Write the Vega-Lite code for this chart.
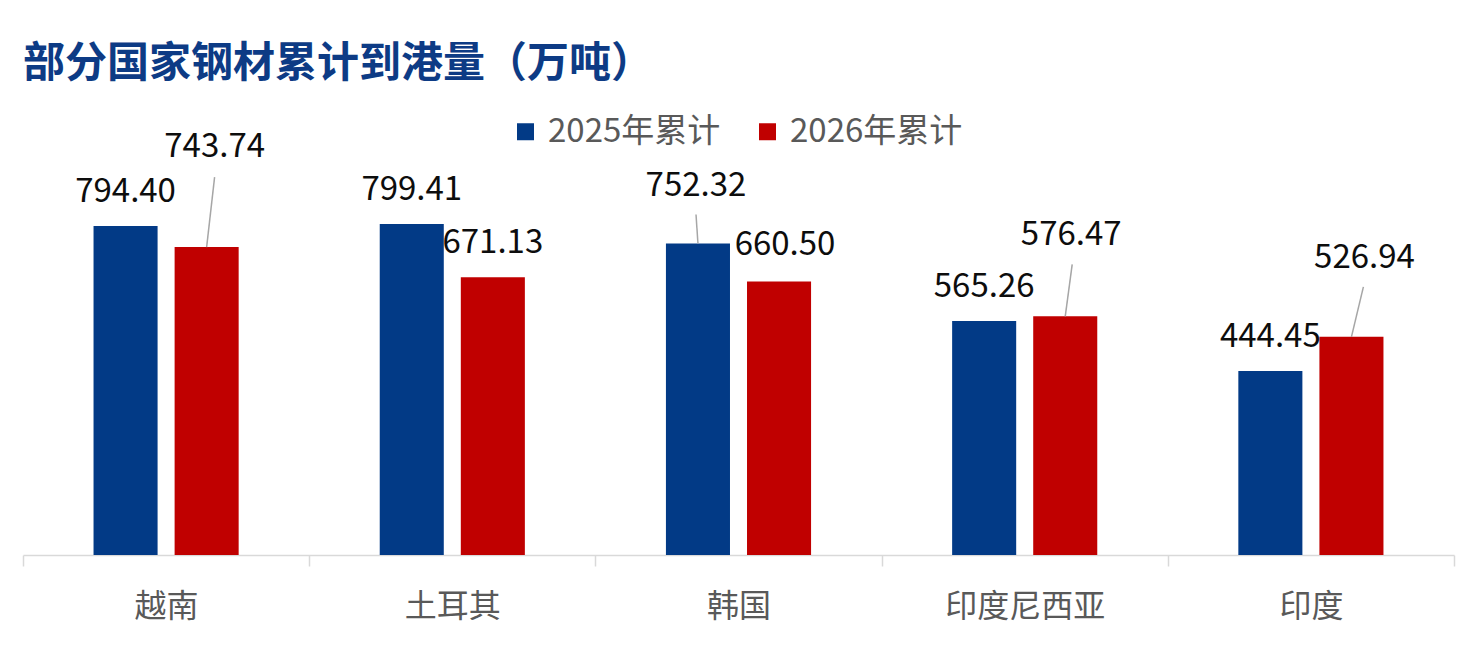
{
  "$schema": "https://vega.github.io/schema/vega-lite/v6.json",
  "width": 1431,
  "height": 414,
  "autosize": {"type": "none"},
  "padding": {"left": 23, "top": 141, "right": 23, "bottom": 95},
  "background": "white",
  "title": {
    "text": "部分国家钢材累计到港量（万吨）",
    "anchor": "start",
    "frame": "group",
    "font": "Noto Sans CJK SC",
    "fontSize": 42,
    "fontWeight": "bold",
    "color": "#0D3B85",
    "offset": 29
  },
  "data": {
    "values": [
      {"country": "越南", "year": "2025年累计", "value": 794.40},
      {"country": "越南", "year": "2026年累计", "value": 743.74},
      {"country": "土耳其", "year": "2025年累计", "value": 799.41},
      {"country": "土耳其", "year": "2026年累计", "value": 671.13},
      {"country": "韩国", "year": "2025年累计", "value": 752.32},
      {"country": "韩国", "year": "2026年累计", "value": 660.50},
      {"country": "印度尼西亚", "year": "2025年累计", "value": 565.26},
      {"country": "印度尼西亚", "year": "2026年累计", "value": 576.47},
      {"country": "印度", "year": "2025年累计", "value": 444.45},
      {"country": "印度", "year": "2026年累计", "value": 526.94}
    ]
  },
  "encoding": {
    "x": {
      "field": "country",
      "type": "nominal",
      "sort": null,
      "scale": {"paddingInner": 0, "paddingOuter": 0},
      "axis": {
        "title": null,
        "labelAngle": 0,
        "labelFont": "Noto Sans CJK SC",
        "labelFontSize": 32,
        "labelColor": "#595959",
        "labelPadding": 25,
        "tickBand": "extent",
        "tickSize": 11,
        "tickColor": "#d9d9d9",
        "tickWidth": 1.5,
        "domainColor": "#d9d9d9",
        "domainWidth": 1.5,
        "grid": false
      }
    },
    "xOffset": {
      "field": "year",
      "type": "nominal",
      "scale": {"paddingInner": 0.21, "paddingOuter": 0.87}
    },
    "y": {
      "field": "value",
      "type": "quantitative",
      "scale": {"domain": [0, 1000]},
      "axis": null
    }
  },
  "layer": [
    {
      "mark": {"type": "bar"},
      "encoding": {
        "color": {
          "field": "year",
          "type": "nominal",
          "scale": {"domain": ["2025年累计", "2026年累计"], "range": ["#023A86", "#C00000"]},
          "legend": {
            "title": null,
            "orient": "none",
            "direction": "horizontal",
            "legendX": 486,
            "legendY": -26,
            "symbolType": "square",
            "symbolSize": 289,
            "symbolStrokeWidth": 0,
            "labelFont": "Noto Sans CJK SC",
            "labelFontSize": 33,
            "labelColor": "#595959",
            "labelOffset": 6,
            "labelLimit": 400,
            "columnPadding": 30
          }
        }
      }
    },
    {
      "transform": [
        {"filter": "!((datum.country == '越南' && datum.year == '2026年累计') || (datum.country == '韩国') || (datum.country == '印度尼西亚' && datum.year == '2026年累计') || (datum.country == '印度' && datum.year == '2026年累计'))"}
      ],
      "mark": {"type": "text", "font": "Noto Sans CJK SC", "fontSize": 33, "baseline": "alphabetic", "dy": -24, "color": "#0d0d0d"},
      "encoding": {"text": {"field": "value", "type": "quantitative", "format": ".2f"}}
    },
    {
      "transform": [{"filter": "datum.country == '韩国' && datum.year == '2026年累计'"}],
      "mark": {"type": "text", "font": "Noto Sans CJK SC", "fontSize": 33, "baseline": "alphabetic", "dx": 6, "dy": -27, "color": "#0d0d0d"},
      "encoding": {"text": {"field": "value", "type": "quantitative", "format": ".2f"}}
    },
    {
      "transform": [{"filter": "datum.country == '韩国' && datum.year == '2025年累计'"}],
      "mark": {"type": "text", "font": "Noto Sans CJK SC", "fontSize": 33, "baseline": "alphabetic", "dx": -2, "dy": -48, "color": "#0d0d0d"},
      "encoding": {"text": {"field": "value", "type": "quantitative", "format": ".2f"}}
    },
    {
      "transform": [{"filter": "datum.country == '越南' && datum.year == '2026年累计'"}],
      "mark": {"type": "text", "font": "Noto Sans CJK SC", "fontSize": 33, "baseline": "alphabetic", "dx": 8, "dy": -90, "color": "#0d0d0d"},
      "encoding": {"text": {"field": "value", "type": "quantitative", "format": ".2f"}}
    },
    {
      "transform": [{"filter": "datum.country == '印度尼西亚' && datum.year == '2026年累计'"}],
      "mark": {"type": "text", "font": "Noto Sans CJK SC", "fontSize": 33, "baseline": "alphabetic", "dx": 6, "dy": -71, "color": "#0d0d0d"},
      "encoding": {"text": {"field": "value", "type": "quantitative", "format": ".2f"}}
    },
    {
      "transform": [{"filter": "datum.country == '印度' && datum.year == '2026年累计'"}],
      "mark": {"type": "text", "font": "Noto Sans CJK SC", "fontSize": 33, "baseline": "alphabetic", "dx": 13, "dy": -69, "color": "#0d0d0d"},
      "encoding": {"text": {"field": "value", "type": "quantitative", "format": ".2f"}}
    },
    {
      "transform": [{"filter": "datum.country == '越南' && datum.year == '2026年累计'"}],
      "mark": {"type": "rule", "color": "#a6a6a6", "strokeWidth": 1.5, "y2Offset": -70, "x2Offset": 48.5},
      "encoding": {"x2": {"field": "country"}, "y2": {"field": "value"}}
    },
    {
      "transform": [{"filter": "datum.country == '韩国' && datum.year == '2025年累计'"}],
      "mark": {"type": "rule", "color": "#a6a6a6", "strokeWidth": 1.5, "y2Offset": -29, "x2Offset": -42.5},
      "encoding": {"x2": {"field": "country"}, "y2": {"field": "value"}}
    },
    {
      "transform": [{"filter": "datum.country == '印度尼西亚' && datum.year == '2026年累计'"}],
      "mark": {"type": "rule", "color": "#a6a6a6", "strokeWidth": 1.5, "y2Offset": -52, "x2Offset": 47.5},
      "encoding": {"x2": {"field": "country"}, "y2": {"field": "value"}}
    },
    {
      "transform": [{"filter": "datum.country == '印度' && datum.year == '2026年累计'"}],
      "mark": {"type": "rule", "color": "#a6a6a6", "strokeWidth": 1.5, "y2Offset": -50, "x2Offset": 52.5},
      "encoding": {"x2": {"field": "country"}, "y2": {"field": "value"}}
    }
  ],
  "config": {"view": {"stroke": null}}
}
